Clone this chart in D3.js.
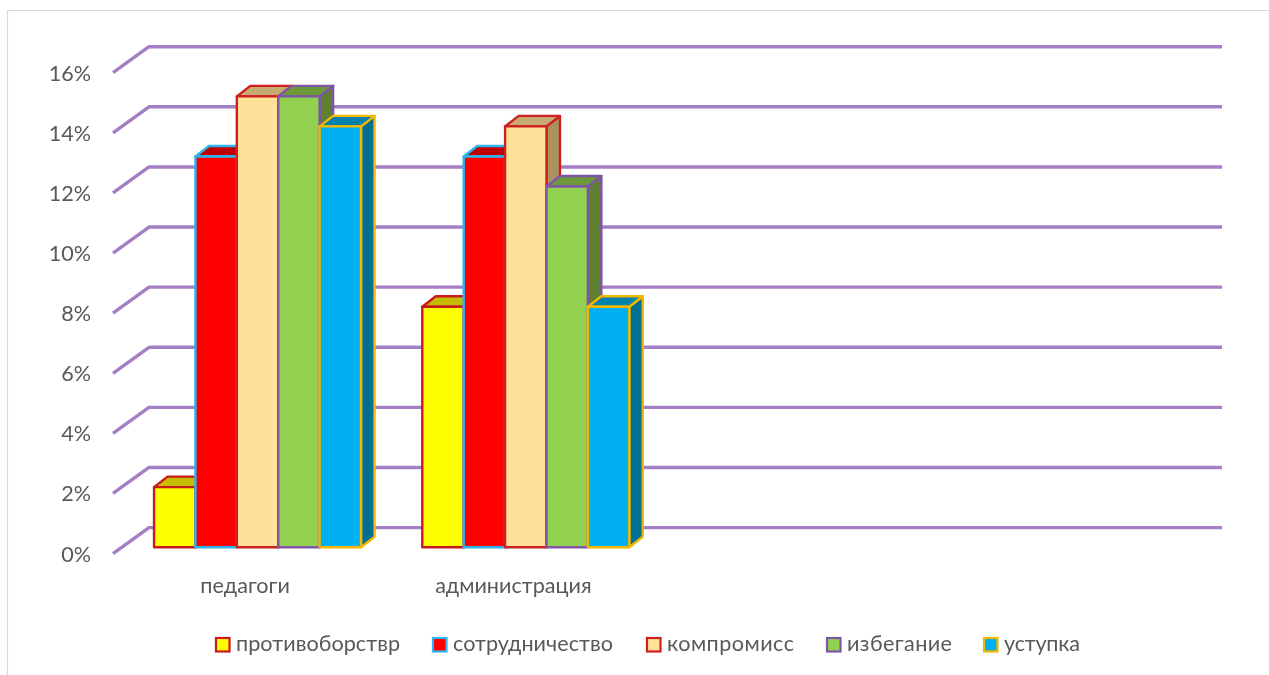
<!DOCTYPE html>
<html><head><meta charset="utf-8">
<script src="https://cdnjs.cloudflare.com/ajax/libs/d3/7.8.5/d3.min.js"></script>
<style>html,body{margin:0;padding:0;background:#fff;overflow:hidden}svg{display:block;filter:blur(.6px)}text{font-family:Lato,"Open Sans","Noto Sans",sans-serif;fill:#595959}</style>
</head><body><svg id="c" width="1269" height="675"></svg>
<script>
const categories = ["педагоги","администрация"," ","  "];
const seriesNames = ["противоборствр","сотрудничество","компромисс","избегание","уступка"];
const values = [[2,8],[13,13],[15,14],[15,12],[14,8]];
const fills = ["#ffff00","#ff0000","#ffe199","#92d050","#00b0f0"];
const strokes = ["#c8191e","#2cb5ee","#cf2020","#7f55a5","#f2b800"];
const topFills = ["#c4bc00","#c00000","#c4ab70","#6c9a3a","#0082ad"];
const sideFills = ["#a8a000","#a00000","#a8935f","#5f8030","#006f94"];
const yTicks = [0,2,4,6,8,10,12,14,16];
const gridColor = "#a57fc5";

const svg = d3.select("#c");
svg.append("path").attr("d","M7.5 675V10.5H1269").attr("fill","none").attr("stroke","#d9d9d9").attr("stroke-width",1.2);

const wall = {dx:36, dy:-26};
const bar = {dx:13.5, dy:-10.5, ox:10.4, oy:-6.4};
const y = d3.scaleLinear().domain([0,16]).range([553.6,72.7]);
const x = d3.scaleBand().domain(categories).range([113,1186]);
const inner = d3.scaleBand().domain(d3.range(seriesNames.length)).range([0,x.bandwidth()]).paddingOuter(0.74).paddingInner(0);

const grid = svg.append("g").attr("fill","none").attr("stroke",gridColor).attr("stroke-width",3.4).attr("stroke-linejoin","round");
yTicks.forEach(t=>{
  const p = d3.path();
  p.moveTo(x.range()[0],y(t));
  p.lineTo(x.range()[0]+wall.dx,y(t)+wall.dy);
  p.lineTo(x.range()[1]+wall.dx,y(t)+wall.dy);
  grid.append("path").attr("d",p.toString());
});

svg.append("g").selectAll("text").data(yTicks).join("text")
  .attr("x",91).attr("y",d=>y(d)+8).attr("text-anchor","end").attr("font-size",21.6)
  .text(d=>d+"%");

svg.append("g").selectAll("text").data(categories.slice(0,2)).join("text")
  .attr("x",d=>x(d)+x.bandwidth()/2-2).attr("y",593).attr("text-anchor","middle").attr("font-size",21.6)
  .text(d=>d);

const bars = svg.append("g").attr("stroke-width",2.4).attr("stroke-linejoin","round");
seriesNames.forEach((s,si)=>{
  categories.slice(0,2).forEach((c,ci)=>{
    const v = values[si][ci];
    const x0 = x(c)+inner(si)+bar.ox, x1 = x0+inner.bandwidth();
    const yt = y(v)+bar.oy, yb = y(0)+bar.oy;
    const g = bars.append("g").attr("stroke",strokes[si]);
    g.append("path").attr("fill",sideFills[si]).attr("d",d3.line()([[x1,yt],[x1+bar.dx,yt+bar.dy],[x1+bar.dx,yb+bar.dy],[x1,yb]])+"Z");
    g.append("path").attr("fill",topFills[si]).attr("d",d3.line()([[x0,yt],[x0+bar.dx,yt+bar.dy],[x1+bar.dx,yt+bar.dy],[x1,yt]])+"Z");
    g.append("rect").attr("fill",fills[si]).attr("x",x0).attr("y",yt).attr("width",x1-x0).attr("height",yb-yt);
  });
});

const legendX = [216,433,647,827,984];
const legendTextW = [164,160,127,105,76];
const legend = svg.append("g");
seriesNames.forEach((s,i)=>{
  legend.append("rect").attr("x",legendX[i]).attr("y",638).attr("width",13.5).attr("height",13.5)
    .attr("fill",fills[i]).attr("stroke",strokes[i]).attr("stroke-width",2.2);
  legend.append("text").attr("x",legendX[i]+20).attr("y",651).attr("font-size",21.6)
    .attr("textLength",legendTextW[i]).attr("lengthAdjust","spacing").text(s);
});
</script></body></html>
